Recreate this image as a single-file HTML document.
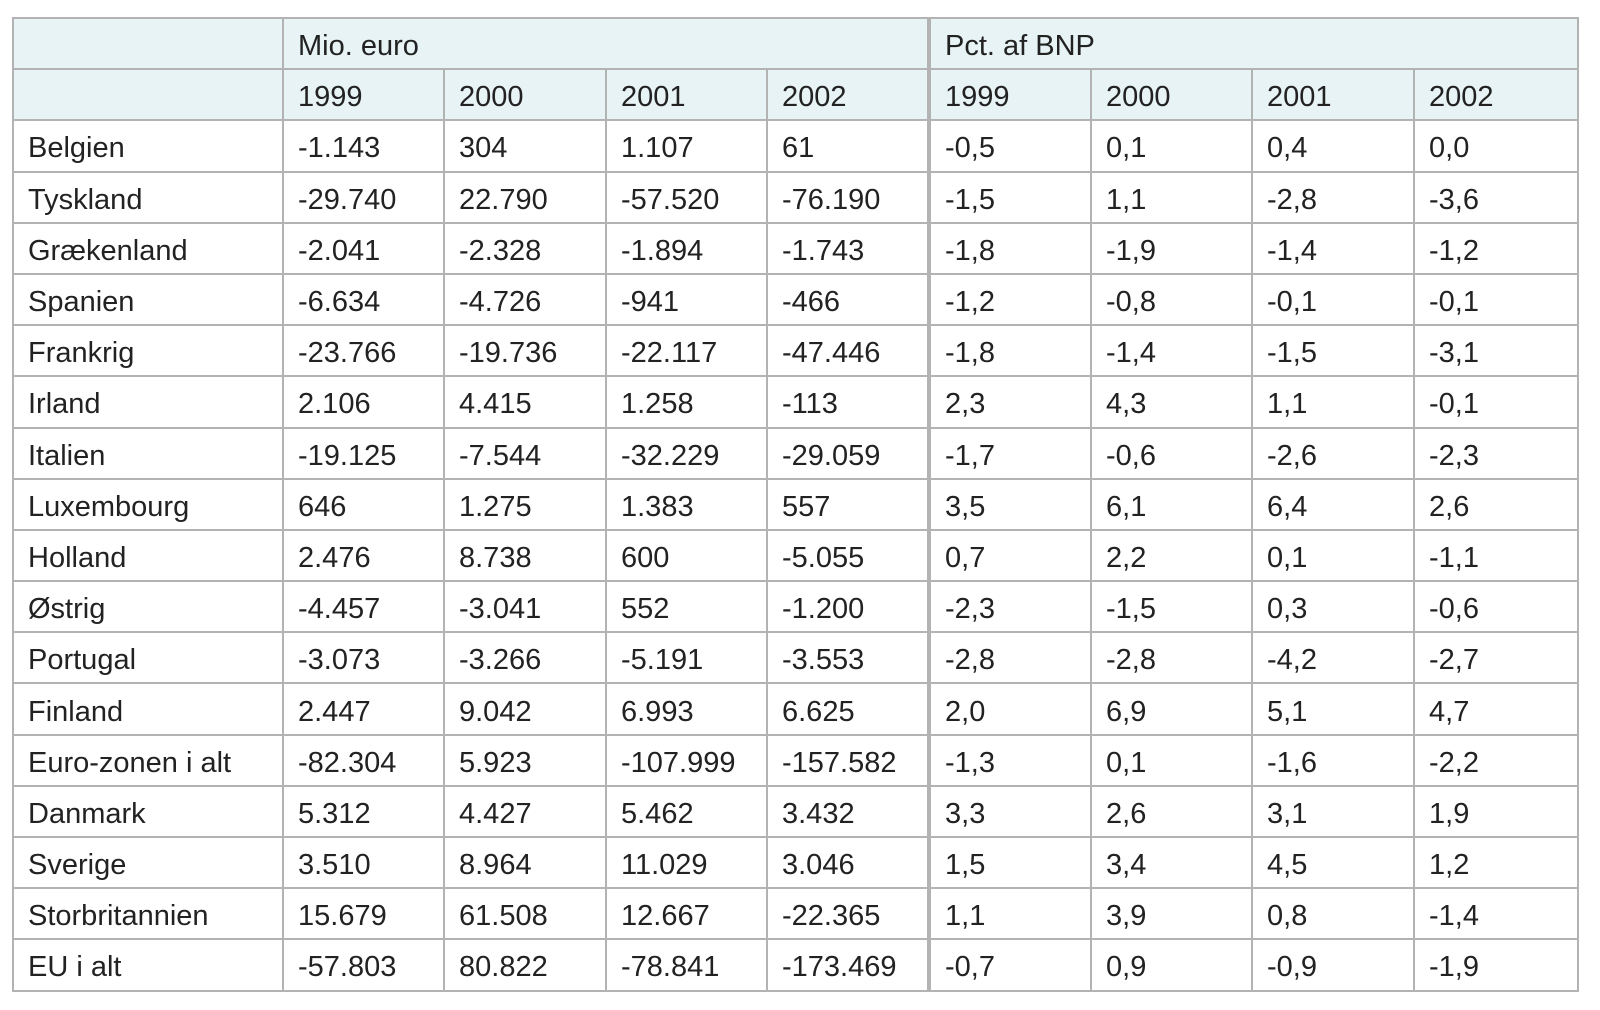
<!DOCTYPE html>
<html><head><meta charset="utf-8"><style>
body{margin:0;background:#fff;width:1600px;height:1010px;overflow:hidden}
table{position:absolute;left:12px;top:17px;width:1565px;border-collapse:collapse;table-layout:fixed;font-family:"Liberation Sans",sans-serif;font-size:29px;color:#222}
tr{height:51.2px}
td{border:2px solid #b3b3b3;padding:6px 0 0 14px;white-space:nowrap;overflow:hidden;box-sizing:border-box}
tr.h td{background:#e8f3f5}
td.s{border-right:4px solid #b3b3b3}
</style></head><body>
<table>
<colgroup><col style="width:270px"><col style="width:161px"><col style="width:162px"><col style="width:161px"><col style="width:162px"><col style="width:162px"><col style="width:161px"><col style="width:162px"><col style="width:164px"></colgroup>
<tr class="h"><td></td><td colspan="4" class="s">Mio. euro</td><td colspan="4">Pct. af BNP</td></tr>
<tr class="h"><td></td><td>1999</td><td>2000</td><td>2001</td><td class="s">2002</td><td>1999</td><td>2000</td><td>2001</td><td>2002</td></tr>
<tr><td>Belgien</td><td>-1.143</td><td>304</td><td>1.107</td><td class="s">61</td><td>-0,5</td><td>0,1</td><td>0,4</td><td>0,0</td></tr>
<tr><td>Tyskland</td><td>-29.740</td><td>22.790</td><td>-57.520</td><td class="s">-76.190</td><td>-1,5</td><td>1,1</td><td>-2,8</td><td>-3,6</td></tr>
<tr><td>Grækenland</td><td>-2.041</td><td>-2.328</td><td>-1.894</td><td class="s">-1.743</td><td>-1,8</td><td>-1,9</td><td>-1,4</td><td>-1,2</td></tr>
<tr><td>Spanien</td><td>-6.634</td><td>-4.726</td><td>-941</td><td class="s">-466</td><td>-1,2</td><td>-0,8</td><td>-0,1</td><td>-0,1</td></tr>
<tr><td>Frankrig</td><td>-23.766</td><td>-19.736</td><td>-22.117</td><td class="s">-47.446</td><td>-1,8</td><td>-1,4</td><td>-1,5</td><td>-3,1</td></tr>
<tr><td>Irland</td><td>2.106</td><td>4.415</td><td>1.258</td><td class="s">-113</td><td>2,3</td><td>4,3</td><td>1,1</td><td>-0,1</td></tr>
<tr><td>Italien</td><td>-19.125</td><td>-7.544</td><td>-32.229</td><td class="s">-29.059</td><td>-1,7</td><td>-0,6</td><td>-2,6</td><td>-2,3</td></tr>
<tr><td>Luxembourg</td><td>646</td><td>1.275</td><td>1.383</td><td class="s">557</td><td>3,5</td><td>6,1</td><td>6,4</td><td>2,6</td></tr>
<tr><td>Holland</td><td>2.476</td><td>8.738</td><td>600</td><td class="s">-5.055</td><td>0,7</td><td>2,2</td><td>0,1</td><td>-1,1</td></tr>
<tr><td>Østrig</td><td>-4.457</td><td>-3.041</td><td>552</td><td class="s">-1.200</td><td>-2,3</td><td>-1,5</td><td>0,3</td><td>-0,6</td></tr>
<tr><td>Portugal</td><td>-3.073</td><td>-3.266</td><td>-5.191</td><td class="s">-3.553</td><td>-2,8</td><td>-2,8</td><td>-4,2</td><td>-2,7</td></tr>
<tr><td>Finland</td><td>2.447</td><td>9.042</td><td>6.993</td><td class="s">6.625</td><td>2,0</td><td>6,9</td><td>5,1</td><td>4,7</td></tr>
<tr><td>Euro-zonen i alt</td><td>-82.304</td><td>5.923</td><td>-107.999</td><td class="s">-157.582</td><td>-1,3</td><td>0,1</td><td>-1,6</td><td>-2,2</td></tr>
<tr><td>Danmark</td><td>5.312</td><td>4.427</td><td>5.462</td><td class="s">3.432</td><td>3,3</td><td>2,6</td><td>3,1</td><td>1,9</td></tr>
<tr><td>Sverige</td><td>3.510</td><td>8.964</td><td>11.029</td><td class="s">3.046</td><td>1,5</td><td>3,4</td><td>4,5</td><td>1,2</td></tr>
<tr><td>Storbritannien</td><td>15.679</td><td>61.508</td><td>12.667</td><td class="s">-22.365</td><td>1,1</td><td>3,9</td><td>0,8</td><td>-1,4</td></tr>
<tr><td>EU i alt</td><td>-57.803</td><td>80.822</td><td>-78.841</td><td class="s">-173.469</td><td>-0,7</td><td>0,9</td><td>-0,9</td><td>-1,9</td></tr>
</table>
</body></html>
